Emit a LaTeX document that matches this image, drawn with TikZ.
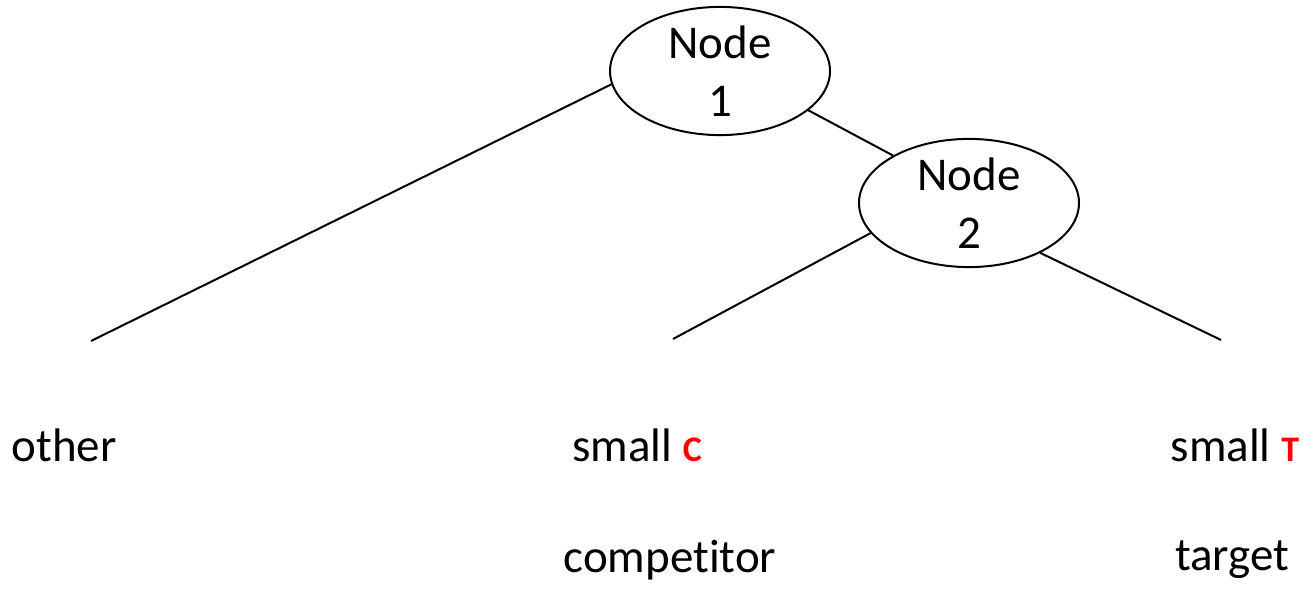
\documentclass[tikz,border=0pt]{standalone}
\usepackage{fontspec}
\setmainfont{Carlito}[Ligatures=NoCommon]
\usetikzlibrary{shapes.geometric}

\begin{document}
\begin{tikzpicture}[
    x=0.5pt, y=-0.5pt,
    font=\fontsize{23.5}{29}\selectfont,
    split/.style={draw, ellipse, line width=1pt, inner sep=0pt, align=center, minimum width=110pt, minimum height=62pt},
    leaf/.style={inner sep=0pt, anchor=center},
    edge/.style={line width=1pt}
]
\useasboundingbox (0,0) rectangle (1316,592);

% Split nodes
\node[split] (n1) at (720,71) {Node\\1};
\node[split] (n2) at (969,203) {Node\\2};

% Loose ends of the branches
\coordinate (endother) at (91,341);
\coordinate (endcomp) at (673,339);
\coordinate (endtarget) at (1221,340);

% Leaf labels
\node[leaf] (other) at (64,445) {other};
\node[leaf] (smallc) at (637,445) {small \textcolor{red}{\fontsize{18}{20}\selectfont\bfseries C}};
\node[leaf] (smallt) at (1235,445) {small \textcolor{red}{\fontsize{18}{20}\selectfont\bfseries T}};
\node[leaf] (comp) at (670,560) {competitor};
\node[leaf] (target) at (1232,560) {target};

% Branches
\draw[edge] (n1.187) -- (endother);
\draw[edge] (n1.336) -- (n2.148);
\draw[edge] (n2.197) -- (endcomp);
\draw[edge] (n2.325) -- (endtarget);

\end{tikzpicture}
\end{document}
